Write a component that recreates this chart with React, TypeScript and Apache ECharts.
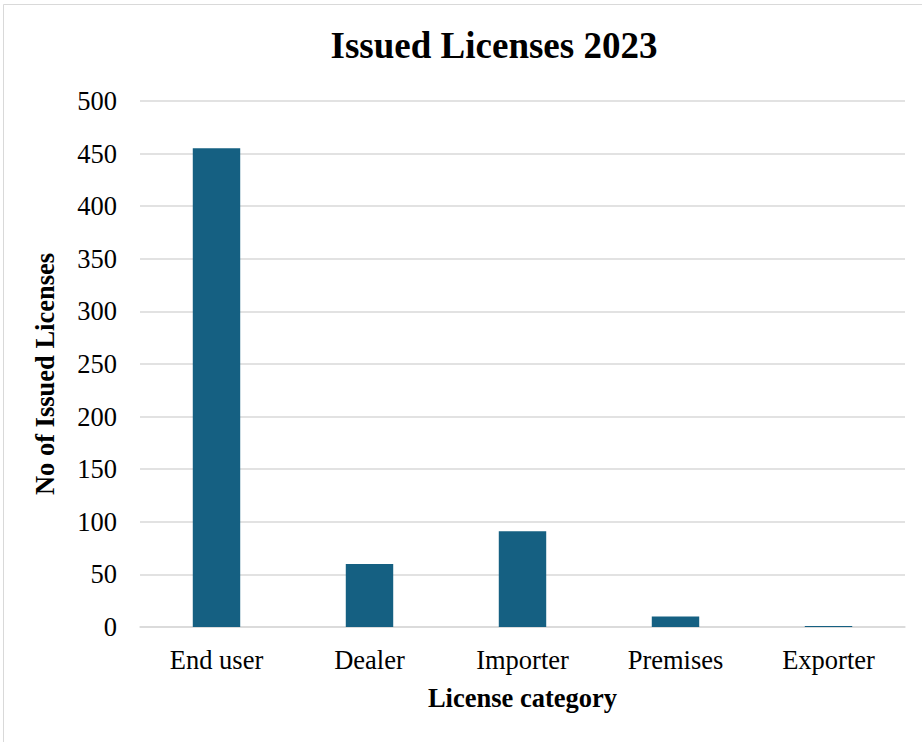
import React, { useEffect, useRef } from "react";
import * as echarts from "echarts";

const categories = ["End user", "Dealer", "Importer", "Premises", "Exporter"];
const values = [455, 60, 91, 10, 1];
const titleText = "Issued Licenses 2023";
const yName = "No of Issued Licenses";
const xName = "License category";

export default function App() {
  const ref = useRef<HTMLDivElement>(null);
  useEffect(() => {
    const chart = echarts.init(ref.current!, undefined, { renderer: "svg" });
    const font = "'Liberation Serif', 'Times New Roman', serif";
    chart.setOption({
      animation: false,
      backgroundColor: "#ffffff",
      title: {
        text: titleText,
        left: 489,
        textAlign: "center",
        top: 22,
        textStyle: { fontFamily: font, fontSize: 37, fontWeight: "bold", color: "#000" },
      },
      graphic: [
        {
          type: "rect",
          shape: { x: 3.5, y: 4.5, width: 940, height: 760 },
          style: { fill: "none", stroke: "#d9d9d9", lineWidth: 1 },
          silent: true,
        },
      ],
      grid: { left: 140, right: 17, top: 101, bottom: 115 },
      xAxis: {
        type: "category",
        data: categories,
        name: xName,
        nameLocation: "middle",
        nameGap: 57,
        nameTextStyle: { fontFamily: font, fontSize: 26.5, fontWeight: "bold", color: "#000" },
        axisLine: { lineStyle: { color: "#d9d9d9", width: 1.5 } },
        axisTick: { show: false },
        axisLabel: { fontFamily: font, fontSize: 26.5, color: "#000", margin: 19 },
      },
      yAxis: {
        type: "value",
        min: 0,
        max: 500,
        interval: 50,
        name: yName,
        nameLocation: "middle",
        nameGap: 82,
        nameTextStyle: {
          fontFamily: font,
          fontSize: 26.5,
          fontWeight: "bold",
          color: "#000",
          padding: [0, 20, 0, 0],
        },
        axisLine: { show: false },
        axisTick: { show: false },
        axisLabel: { fontFamily: font, fontSize: 26.5, color: "#000", margin: 23 },
        splitLine: { lineStyle: { color: "#d9d9d9", width: 1.5 } },
      },
      series: [
        {
          type: "bar",
          data: values,
          barWidth: "31%",
          itemStyle: { color: "#156082" },
        },
      ],
    });
    return () => chart.dispose();
  }, []);
  return (
    <div
      ref={ref}
      style={{ position: "fixed", left: 0, top: 0, width: 922, height: 742 }}
    />
  );
}
